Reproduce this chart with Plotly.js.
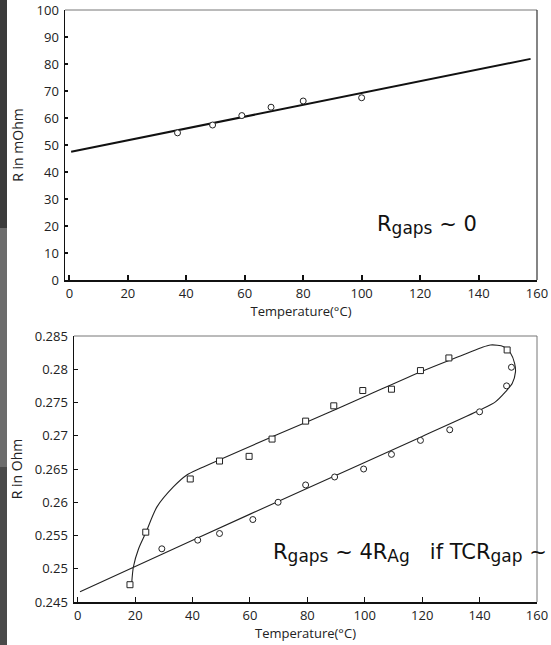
<!DOCTYPE html>
<html>
<head>
<meta charset="utf-8">
<script src="https://cdn.plot.ly/plotly-3.0.1.min.js"></script>
<style>html,body{margin:0;padding:0;background:#fff;}#chart{width:551px;height:645px;}</style>
</head>
<body>
<div id="chart"></div>
<script>
// ---- Top panel data (R in mOhm) ----
const topTemp = [37, 49, 59, 69, 80, 100];
const topR = [54.5, 57.4, 60.9, 64.0, 66.3, 67.5];
const topFitTemp = [0.6, 157.8];
const topFitR = [47.5, 81.9];

// ---- Bottom panel data (R in Ohm) ----
const circTemp = [29.3, 41.8, 49.4, 61, 69.8, 79.4, 89.5, 99.6, 109.3, 119.4, 129.6, 140, 149.4, 151.1];
const circR = [0.2530, 0.2543, 0.2553, 0.2574, 0.2600, 0.2626, 0.2638, 0.2650, 0.2672, 0.2693, 0.2709, 0.2736, 0.2775, 0.2803];
const sqTemp = [18.2, 23.7, 39.2, 49.4, 59.7, 67.7, 79.4, 89.2, 99.3, 109.3, 119.4, 129.3, 149.6];
const sqR = [0.2476, 0.2555, 0.2635, 0.2662, 0.2669, 0.2695, 0.2722, 0.2745, 0.2768, 0.2770, 0.2798, 0.2817, 0.2829];
const curveTemp = [18.8, 19.4, 21.2, 23.7, 27.6, 33.3, 38, 42.7, 60, 80, 100, 120, 133.3, 140.3, 143.8, 148.4, 150.8, 152.2, 152.5, 151.4, 149, 145.5, 140.3, 120, 80, 40, 0.8];
const curveR = [0.2478, 0.2503, 0.2530, 0.2554, 0.2593, 0.2623, 0.2641, 0.2651, 0.2684, 0.2721, 0.2759, 0.2797, 0.2820, 0.2832, 0.28365, 0.2834, 0.2824, 0.2809, 0.2796, 0.2779, 0.2766, 0.2751, 0.2739, 0.2699, 0.2621, 0.2543, 0.24655];

// ---- Tick labels ----
const xTickVals = [0, 20, 40, 60, 80, 100, 120, 140, 160];
const xTickText = ['0', '20', '40', '60', '80', '100', '120', '140', '160'];
const topYTickVals = [0, 10, 20, 30, 40, 50, 60, 70, 80, 90, 100];
const topYTickText = ['0', '10', '20', '30', '40', '50', '60', '70', '80', '90', '100'];
const botYTickVals = [0.245, 0.25, 0.255, 0.26, 0.265, 0.27, 0.275, 0.28, 0.285];
const botYTickText = ['0.245', '0.25', '0.255', '0.26', '0.265', '0.27', '0.275', '0.28', '0.285'];

const W = 551, H = 645;
const tickFont = {family: 'Open Sans, sans-serif', size: 13, color: '#222'};
const titleFont = {family: 'Open Sans, sans-serif', size: 13, color: '#222'};
const annFont = {family: 'DejaVu Sans, sans-serif', size: 21, color: '#111'};
const SUB = (s) => '<span style="font-size:17px;baseline-shift:-3px">' + s + '</span>';

const traces = [
  {x: topFitTemp, y: topFitR, xaxis: 'x', yaxis: 'y', mode: 'lines', line: {color: '#111', width: 2}, showlegend: false, hoverinfo: 'skip'},
  {x: topTemp, y: topR, xaxis: 'x', yaxis: 'y', mode: 'markers', marker: {symbol: 'circle', size: 6, color: '#fff', line: {color: '#222', width: 1}}, showlegend: false},
  {x: curveTemp, y: curveR, xaxis: 'x2', yaxis: 'y2', mode: 'lines', line: {color: '#222', width: 1.1, shape: 'spline', smoothing: 0.8}, showlegend: false, hoverinfo: 'skip'},
  {x: circTemp, y: circR, xaxis: 'x2', yaxis: 'y2', mode: 'markers', marker: {symbol: 'circle', size: 6, color: '#fff', line: {color: '#222', width: 1}}, showlegend: false},
  {x: sqTemp, y: sqR, xaxis: 'x2', yaxis: 'y2', mode: 'markers', marker: {symbol: 'square', size: 6, color: '#fff', line: {color: '#222', width: 1}}, showlegend: false}
];

function xAxis(domain, range, anchor, tw, tl) {
  return {
    domain: domain, range: range, anchor: anchor,
    showgrid: false, zeroline: false,
    showline: true, linecolor: '#111', linewidth: 1.5,
    ticks: 'inside', ticklen: tl, tickwidth: tw, tickcolor: '#111',
    tickmode: 'array', tickvals: xTickVals, ticktext: xTickText,
    tickfont: tickFont, ticklabelstandoff: 1,
    title: {text: 'Temperature(°C)', font: titleFont, standoff: 3},
    automargin: false
  };
}
function yAxis(domain, range, anchor, vals, text, title, tw, tl) {
  return {
    domain: domain, range: range, anchor: anchor,
    showgrid: false, zeroline: false,
    showline: true, linecolor: '#111', linewidth: 1.5,
    ticks: 'inside', ticklen: tl, tickwidth: tw, tickcolor: '#111',
    tickmode: 'array', tickvals: vals, ticktext: text,
    tickfont: tickFont, ticklabelstandoff: 2,
    title: {text: title, font: {family: 'Open Sans, sans-serif', size: 14, color: '#222'}, standoff: 9},
    automargin: false
  };
}

const topY = [(H - 280) / H, (H - 10) / H];
const botY = [(H - 602) / H, (H - 336) / H];

const frameLine = {color: '#777', width: 1};
const shapes = [
  // left gray strip
  {type: 'rect', xref: 'paper', yref: 'paper', x0: 0, x1: 7 / W, y0: (H - 228) / H, y1: 1, fillcolor: '#3b3b3b', line: {width: 0}, layer: 'below'},
  {type: 'rect', xref: 'paper', yref: 'paper', x0: 0, x1: 7 / W, y0: (H - 467) / H, y1: (H - 228) / H, fillcolor: '#6c6c6c', line: {width: 0}, layer: 'below'},
  {type: 'rect', xref: 'paper', yref: 'paper', x0: 0, x1: 7 / W, y0: 0, y1: (H - 467) / H, fillcolor: '#4a4a4a', line: {width: 0}, layer: 'below'},
  // frames top/right
  {type: 'line', xref: 'x domain', yref: 'y domain', x0: 0, x1: 1, y0: 1, y1: 1, line: frameLine},
  {type: 'line', xref: 'x domain', yref: 'y domain', x0: 1, x1: 1, y0: 0, y1: 1, line: {color: '#333', width: 1.2}},
  {type: 'line', xref: 'x2 domain', yref: 'y2 domain', x0: 0, x1: 1, y0: 1, y1: 1, line: frameLine},
  {type: 'line', xref: 'x2 domain', yref: 'y2 domain', x0: 1, x1: 1, y0: 0, y1: 1, line: frameLine}
];

const annotations = [
  {xref: 'x', yref: 'y', x: 104.6, y: 20.5, xanchor: 'left', yanchor: 'middle', showarrow: false,
   text: 'R' + SUB('gaps') + ' ~ 0', font: annFont},
  {xref: 'x2', yref: 'y2', x: 67.2, y: 0.2523, xanchor: 'left', yanchor: 'middle', showarrow: false,
   text: 'R' + SUB('gaps') + ' ~ 4R' + SUB('Ag') + '&nbsp;&nbsp;&nbsp;if TCR' + SUB('gap') + ' ~ 0', font: annFont}
];

const layout = {
  width: W, height: H,
  margin: {l: 0, r: 0, t: 0, b: 0},
  paper_bgcolor: '#fff', plot_bgcolor: '#fff',
  showlegend: false,
  xaxis: xAxis([65 / W, 537 / W], [-1.5, 160], 'y', 2, 5),
  yaxis: yAxis(topY, [0, 100], 'x', topYTickVals, topYTickText, 'R in mOhm', 2, 3),
  xaxis2: xAxis([74 / W, 537 / W], [-1.3, 160], 'y2', 1, 5),
  yaxis2: yAxis(botY, [0.245, 0.285], 'x2', botYTickVals, botYTickText, 'R in Ohm', 1, 4),
  shapes: shapes,
  annotations: annotations
};

Plotly.newPlot('chart', traces, layout, {displayModeBar: false, staticPlot: true});
</script>
</body>
</html>
